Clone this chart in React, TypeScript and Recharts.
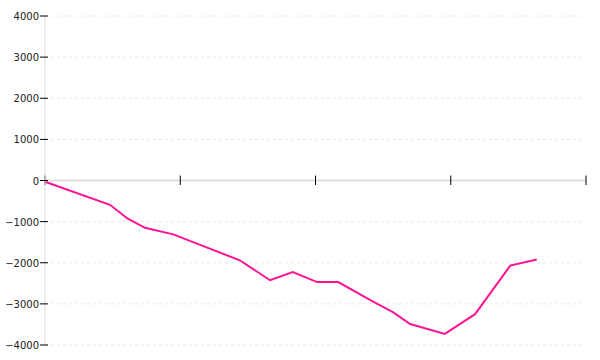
import { LineChart, Line, XAxis, YAxis, CartesianGrid, ReferenceLine } from 'recharts'

// position along the run (0-100) and cumulative value
const positions = [0, 12.0, 15.3, 18.5, 23.7, 36.0, 41.6, 45.8, 50.3, 54.2, 60.4, 64.3, 67.5, 73.9, 79.5, 86.0, 90.9]
const values = [-30, -590, -930, -1150, -1310, -1940, -2425, -2225, -2470, -2470, -2930, -3200, -3490, -3730, -3250, -2070, -1920]
const xTicks = [0, 25, 50, 75, 100]
const yTicks = [-4000, -3000, -2000, -1000, 0, 1000, 2000, 3000, 4000]

const data = positions.map((x, i) => ({ x, value: values[i] }))

const YTick = (props: any) => {
  const { x, y, payload } = props
  return (
    <g>
      <line x1={x - 5} x2={x + 3} y1={y} y2={y} stroke="#000" strokeWidth={1} />
      <text
        x={x - 6}
        y={y}
        dy={4}
        textAnchor="end"
        fill="#222"
        fontSize={10}
        fontFamily="DejaVu Sans"
      >
        {String(payload.value).replace('-', '\u2212')}
      </text>
    </g>
  )
}

export default function App() {
  return (
    <div style={{ position: 'absolute', left: 0, top: 0, width: 600, height: 360, background: '#fff' }}>
      <LineChart width={600} height={360} data={data} margin={{ top: 16, right: 14, bottom: 15, left: 0 }}>
        <CartesianGrid vertical={false} stroke="#e8e8e8" strokeDasharray="3 3" />
        <XAxis dataKey="x" type="number" domain={[0, 100]} ticks={xTicks} hide />
        <YAxis
          type="number"
          domain={[-4000, 4000]}
          ticks={yTicks}
          width={45}
          axisLine={{ stroke: '#ddd' }}
          tickLine={false}
          tickSize={0}
          tickMargin={0}
          tick={<YTick />}
          interval={0}
        />
        <ReferenceLine y={0} stroke="#ddd" strokeWidth={2} />
        {xTicks.map(t => (
          <ReferenceLine
            key={t}
            segment={[{ x: t, y: -110 }, { x: t, y: 120 }]}
            stroke="#000"
            strokeWidth={1}
          />
        ))}
        <Line
          type="linear"
          dataKey="value"
          stroke="#ff1493"
          strokeWidth={2}
          dot={false}
          isAnimationActive={false}
        />
      </LineChart>
    </div>
  )
}
